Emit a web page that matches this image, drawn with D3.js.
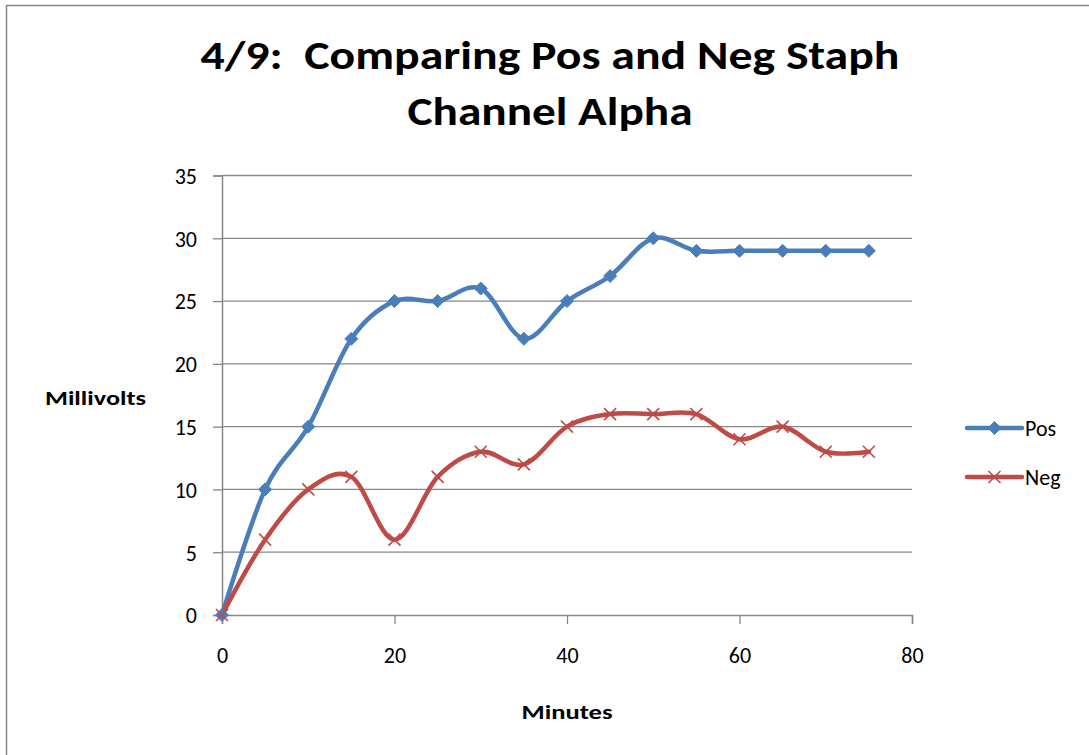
<!DOCTYPE html>
<html>
<head>
<meta charset="utf-8">
<script src="https://cdn.jsdelivr.net/npm/d3@7/dist/d3.min.js"></script>
<style>
  html, body { margin: 0; padding: 0; background: #fff; }
  svg { display: block; font-family: Carlito, Calibri, Lato, "Open Sans", sans-serif; }
  .title { white-space: pre; }
</style>
</head>
<body>
<div id="chart"></div>
<script>
/* 4/9 Pos vs Neg Staph — Channel Alpha, smoothed Excel-style line chart */
const minutes = [0, 5, 10, 15, 20, 25, 30, 35, 40, 45, 50, 55, 60, 65, 70, 75];
const posValues = [0, 10, 15, 22, 25, 25, 26, 22, 25, 27, 30, 29, 29, 29, 29, 29];
const negValues = [0, 6, 10, 11, 6, 11, 13, 12, 15, 16, 16, 16, 14, 15, 13, 13];
const xTicks = [0, 20, 40, 60, 80];
const yTicks = [0, 5, 10, 15, 20, 25, 30, 35];
const titleLines = ["4/9:  Comparing Pos and Neg Staph", "Channel Alpha"];
const seriesNames = ["Pos", "Neg"];

const W = 1089, H = 755;
const svg = d3.select("#chart").append("svg").attr("width", W).attr("height", H);

// outer chart frame (runs off right/bottom edge like the capture)
svg.append("rect").attr("x", 6.5).attr("y", 5.5).attr("width", 1100).attr("height", 800)
  .attr("fill", "#fff").attr("stroke", "#868686").attr("stroke-width", 1.5);

const x = d3.scaleLinear().domain([0, 80]).range([222, 912]);
const y = d3.scaleLinear().domain([0, 35]).range([615, 175.5]);
const grey = "#868686";

// grid
svg.append("g").selectAll("line").data(yTicks.filter(v => v > 0)).join("line")
  .attr("x1", x(0)).attr("x2", x(80)).attr("y1", d => y(d)).attr("y2", d => y(d))
  .attr("stroke", grey).attr("stroke-width", 1.3);

// axes
const yAxis = svg.append("g").attr("transform", `translate(${x(0)},0)`)
  .call(d3.axisLeft(y).tickValues(yTicks).tickSize(9).tickPadding(16).tickFormat(d3.format("d")));
const xAxis = svg.append("g").attr("transform", `translate(0,${y(0)})`)
  .call(d3.axisBottom(x).tickValues(xTicks).tickSize(9).tickPadding(22).tickFormat(d3.format("d")));
[xAxis, yAxis].forEach(a => {
  a.attr("font-family", null).attr("font-size", null);
  a.select(".domain").attr("stroke", grey).attr("stroke-width", 1.5);
  a.selectAll(".tick line").attr("stroke", grey).attr("stroke-width", 1.3);
  a.selectAll("text").attr("fill", "#000").attr("font-size", 22);
});
yAxis.selectAll("text").attr("dy", "0.36em");
xAxis.selectAll("text").attr("dy", "0.75em");

// series
const line = d3.line().curve(d3.curveCatmullRom.alpha(0)).x(d => x(d[0])).y(d => y(d[1]));
const series = [
  { name: seriesNames[0], color: "#4A7EBB", pts: minutes.map((m, i) => [m, posValues[i]]), marker: "diamond" },
  { name: seriesNames[1], color: "#BE4B48", pts: minutes.map((m, i) => [m, negValues[i]]), marker: "x" }
];

function drawMarker(g, type, color) {
  if (type === "diamond") {
    g.append("path").attr("d", "M0,-6.5L6.5,0L0,6.5L-6.5,0Z").attr("fill", color).attr("stroke", color).attr("stroke-width", 1);
  } else {
    g.append("path").attr("d", "M-6,-6L6,6M-6,6L6,-6").attr("stroke", color).attr("stroke-width", 1.6).attr("fill", "none");
  }
}

series.forEach(s => {
  svg.append("path").datum(s.pts).attr("d", line).attr("fill", "none")
    .attr("stroke", s.color).attr("stroke-width", 4.5).attr("stroke-linejoin", "round").attr("stroke-linecap", "round");
});
series.forEach(s => {
  svg.append("g").selectAll("g").data(s.pts).join("g")
    .attr("transform", d => `translate(${x(d[0])},${y(d[1])})`)
    .each(function () { drawMarker(d3.select(this), s.marker, s.color); });
});

// title
svg.append("g").selectAll("text").data(titleLines).join("text")
  .attr("class", "title")
  .attr("x", 550).attr("y", (d, i) => 69 + i * 56)
  .attr("text-anchor", "middle").attr("font-weight", "bold").attr("font-size", 41)
  .attr("textLength", (d, i) => i === 0 ? 699 : 285).attr("lengthAdjust", "spacingAndGlyphs")
  .text(d => d);

// axis titles
svg.append("text").attr("x", 95.5).attr("y", 405).attr("text-anchor", "middle")
  .attr("font-weight", "bold").attr("font-size", 21).attr("textLength", 101).attr("lengthAdjust", "spacingAndGlyphs")
  .text("Millivolts");
svg.append("text").attr("x", 567).attr("y", 719).attr("text-anchor", "middle")
  .attr("font-weight", "bold").attr("font-size", 21).attr("textLength", 91).attr("lengthAdjust", "spacingAndGlyphs")
  .text("Minutes");

// legend
const legend = svg.append("g").selectAll("g").data(series).join("g")
  .attr("transform", (d, i) => `translate(967,${428 + i * 49})`);
legend.append("line").attr("x1", 0).attr("x2", 55).attr("stroke", d => d.color)
  .attr("stroke-width", 4.5).attr("stroke-linecap", "round");
legend.each(function (d) {
  const g = d3.select(this).append("g").attr("transform", "translate(27.5,0)");
  drawMarker(g, d.marker, d.color);
});
legend.append("text").attr("x", 58).attr("y", 0).attr("dy", "0.36em").attr("font-size", 22)
  .text(d => d.name);
</script>
</body>
</html>
